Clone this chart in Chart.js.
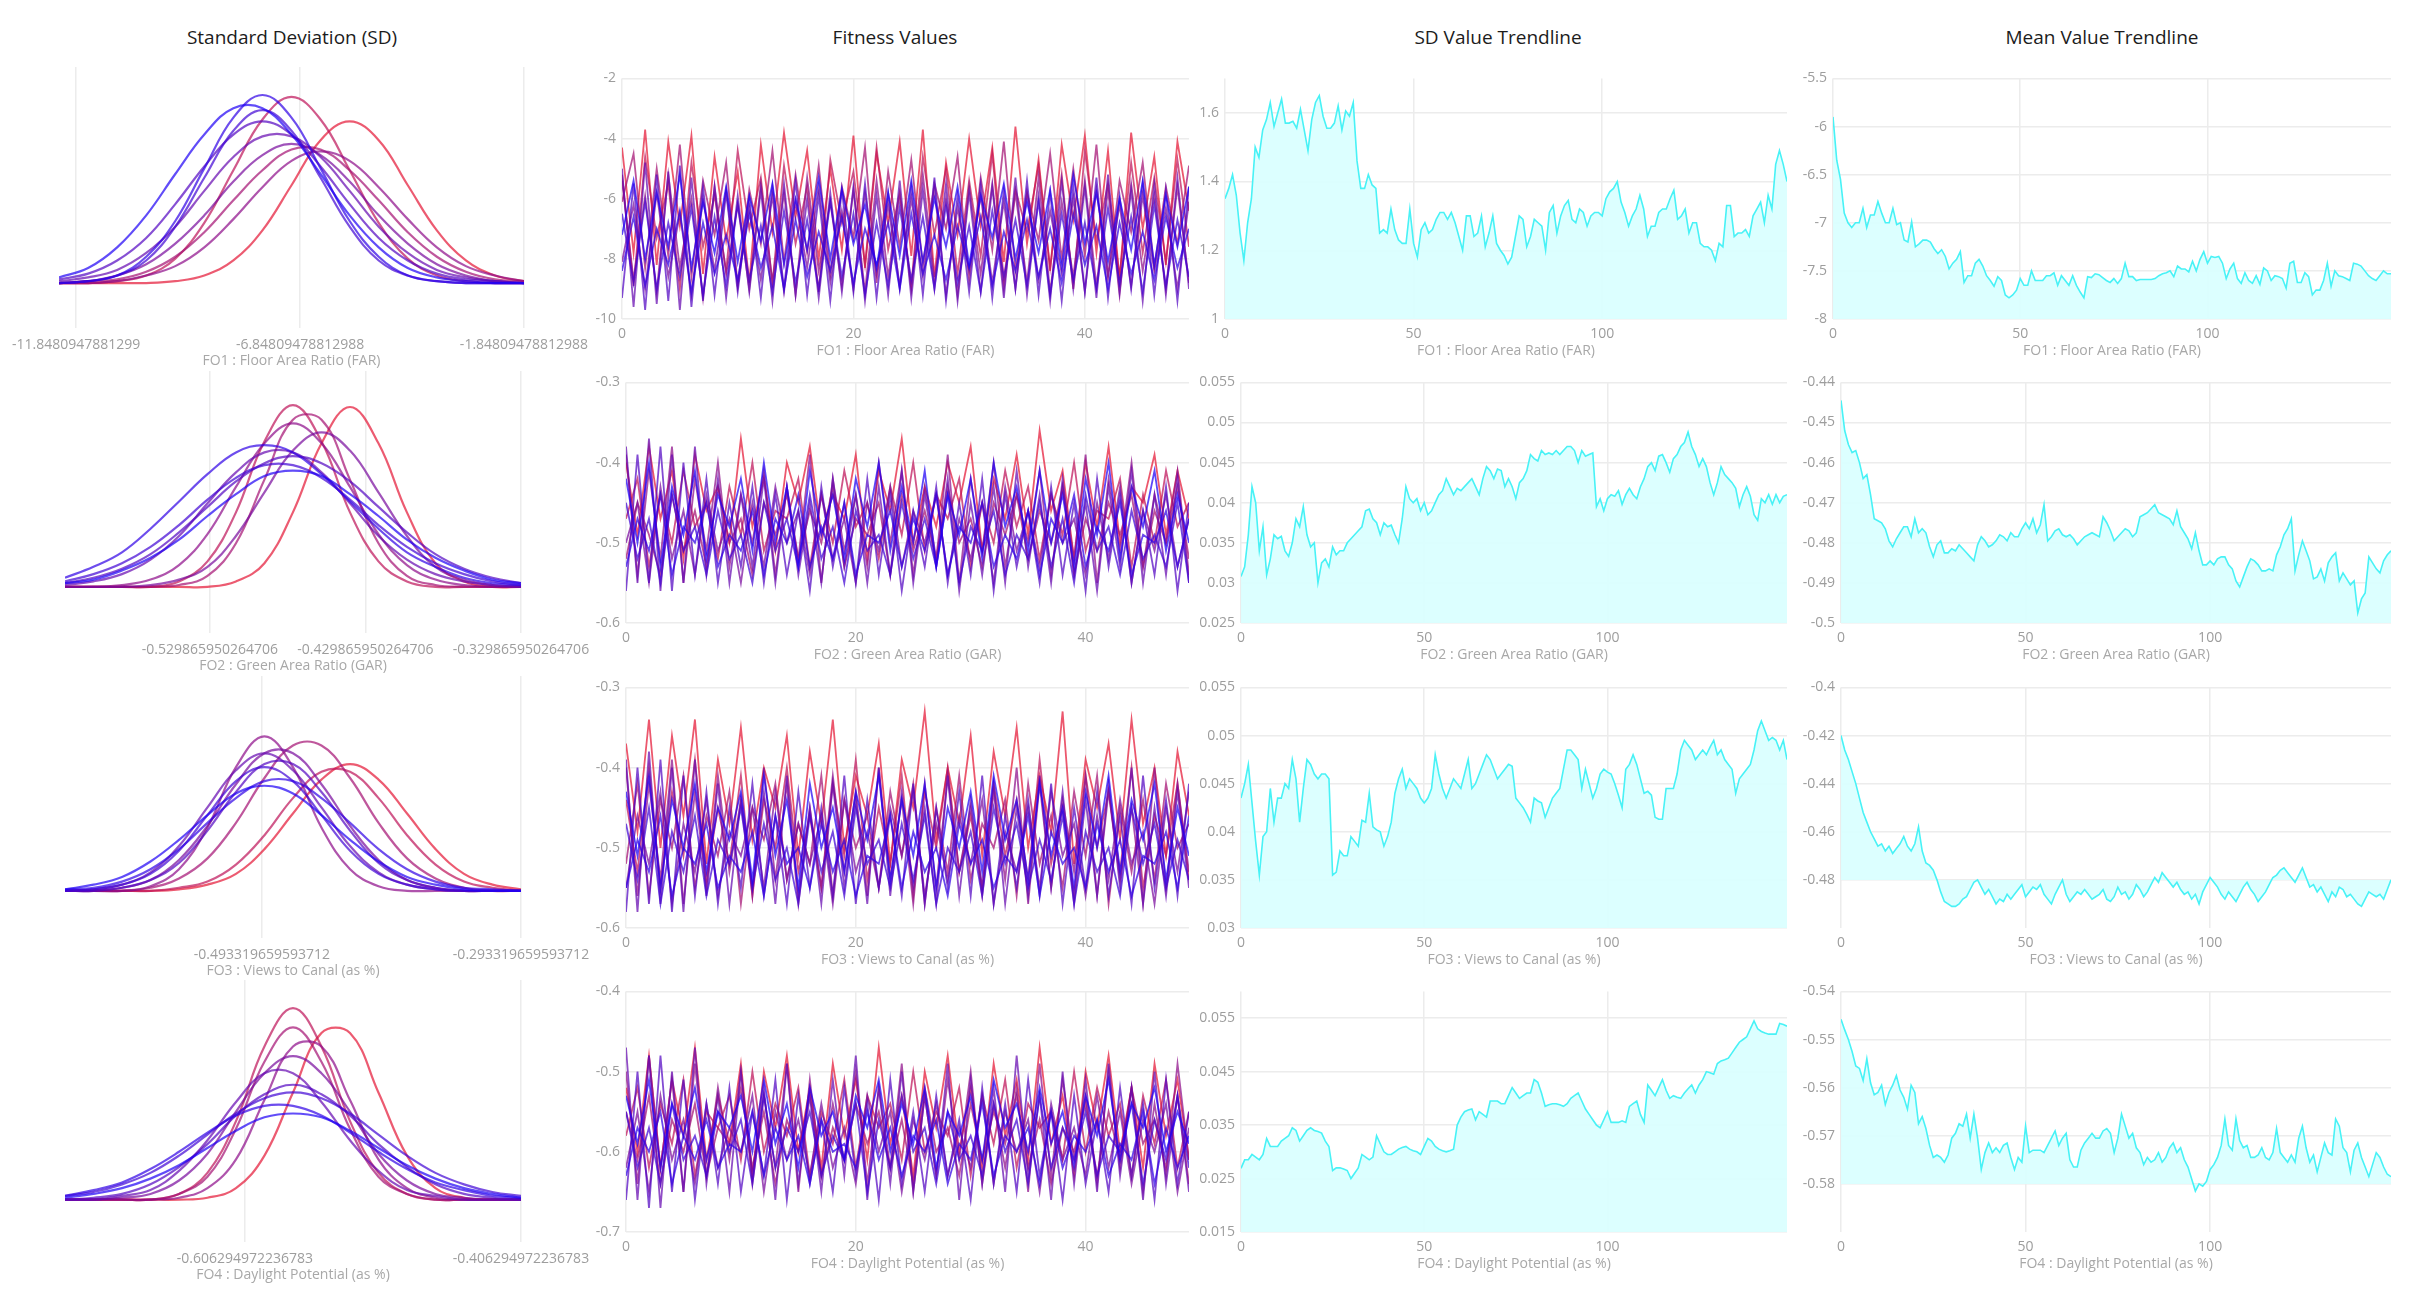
<!DOCTYPE html>
<html>
<head>
<meta charset="utf-8">
<script src="https://cdn.jsdelivr.net/npm/chart.js@4.4.1/dist/chart.umd.min.js"></script>
<style>
body { margin: 0; background: #fff; width: 2419px; height: 1302px; overflow: hidden; position: relative; font-family: "Open Sans", sans-serif; }
.coltitle { position: absolute; top: 27px; line-height: 20px; font-size: 19px; color: #1c1c1c; transform: translateX(-50%); white-space: nowrap; }
canvas { position: absolute; }
</style>
</head>
<body>
<div class="coltitle" style="left:292px">Standard Deviation (SD)</div>
<div class="coltitle" style="left:895px">Fitness Values</div>
<div class="coltitle" style="left:1498px">SD Value Trendline</div>
<div class="coltitle" style="left:2102px">Mean Value Trendline</div>
<script>
// objectives (x axis titles of every row)
const objectives = ["FO1 : Floor Area Ratio (FAR)", "FO2 : Green Area Ratio (GAR)", "FO3 : Views to Canal (as %)", "FO4 : Daylight Potential (as %)"]

// ---------- Standard Deviation column: curves sampled on a shared x grid (oldest generation first) ----------
const sdGridFO1 = [-12.23,-11.581,-10.932,-10.283,-9.634,-8.986,-8.337,-7.688,-7.039,-6.39,-5.741,-5.092,-4.443,-3.794,-3.146,-2.497,-1.8481]
const sdTicksFO1 = [-11.8480947881299, -6.84809478812988, -1.84809478812988]
const sdCurvesFO1 = [
  [0,0,0,0,.01,.04,.12,.28,.52,.76,.86,.76,.52,.28,.12,.04,.01],
  [0,0,.01,.04,.13,.32,.6,.87,.99,.87,.6,.32,.13,.04,.01,0,0],
  [0,.01,.02,.06,.14,.27,.44,.6,.71,.71,.6,.44,.27,.14,.06,.02,.01],
  [0,0,.01,.04,.09,.19,.34,.51,.65,.7,.65,.51,.34,.19,.09,.04,.01],
  [0,.01,.04,.1,.21,.36,.54,.68,.74,.68,.54,.36,.21,.1,.04,.01,0],
  [.01,.03,.07,.16,.3,.49,.67,.78,.78,.67,.49,.3,.16,.07,.03,.01,0],
  [.02,.05,.12,.24,.42,.62,.79,.86,.79,.62,.42,.24,.12,.05,.02,.01,0],
  [0,.01,.04,.12,.3,.56,.81,.92,.81,.56,.3,.12,.04,.01,0,0,0],
  [0,.01,.04,.14,.33,.61,.88,1,.88,.61,.33,.14,.04,.01,0,0,0],
  [.03,.08,.19,.36,.58,.79,.93,.93,.79,.58,.36,.19,.08,.03,.01,0,0]
]
const sdGridFO2 = [-0.623,-0.6047,-0.5864,-0.568,-0.5497,-0.5314,-0.5131,-0.4948,-0.4765,-0.4581,-0.4398,-0.4215,-0.4032,-0.3849,-0.3665,-0.3482,-0.3299]
const sdTicksFO2 = [-0.529865950264706, -0.429865950264706, -0.329865950264706]
const sdCurvesFO2 = [
  [0,0,0,0,0,0,.03,.13,.41,.79,.99,.79,.41,.13,.03,0,0],
  [0,0,0,0,.03,.14,.41,.8,1,.8,.41,.14,.03,0,0,0,0],
  [0,0,0,0,.01,.06,.24,.59,.92,.92,.59,.24,.06,.01,0,0,0],
  [0,0,.01,.04,.12,.29,.55,.79,.9,.79,.55,.29,.12,.04,.01,0,0],
  [0,0,0,.01,.04,.11,.28,.52,.75,.85,.75,.52,.28,.11,.04,.01,0],
  [.01,.03,.07,.15,.28,.46,.63,.74,.74,.63,.46,.28,.15,.07,.03,.01,0],
  [.02,.05,.1,.18,.3,.44,.58,.68,.72,.68,.58,.44,.3,.18,.1,.05,.02],
  [.03,.07,.13,.22,.34,.48,.6,.67,.67,.6,.48,.34,.22,.13,.07,.03,.01],
  [.05,.11,.19,.32,.47,.62,.74,.78,.74,.62,.47,.32,.19,.11,.05,.02,.01],
  [.02,.04,.09,.16,.26,.39,.51,.61,.64,.61,.51,.39,.26,.16,.09,.04,.02]
]
const sdGridFO3 = [-0.6454,-0.6234,-0.6014,-0.5794,-0.5574,-0.5354,-0.5134,-0.4914,-0.4694,-0.4474,-0.4253,-0.4033,-0.3813,-0.3593,-0.3373,-0.3153,-0.2933]
const sdTicksFO3 = [-0.493319659593712, -0.293319659593712]
const sdCurvesFO3 = [
  [0,0,0,0,.01,.04,.11,.27,.5,.72,.82,.72,.5,.27,.11,.04,.01],
  [0,0,0,0,.02,.06,.17,.36,.6,.77,.77,.6,.36,.17,.06,.02,0],
  [0,0,0,.02,.08,.21,.44,.73,.94,.94,.73,.44,.21,.08,.02,0,0],
  [0,0,0,.03,.14,.41,.8,1,.8,.41,.14,.03,0,0,0,0,0],
  [0,0,.02,.07,.2,.42,.69,.89,.89,.69,.42,.2,.07,.02,0,0,0],
  [0,.01,.04,.12,.29,.54,.78,.89,.78,.54,.29,.12,.04,.01,0,0,0],
  [0,0,.02,.07,.18,.39,.64,.82,.82,.64,.39,.18,.07,.02,0,0,0],
  [0,.01,.04,.11,.26,.49,.71,.8,.71,.49,.26,.11,.04,.01,0,0,0],
  [.01,.02,.06,.14,.27,.44,.6,.71,.71,.6,.44,.27,.14,.06,.02,.01,0],
  [.01,.04,.09,.19,.33,.49,.63,.68,.63,.49,.33,.19,.09,.04,.01,0,0]
]
const sdGridFO4 = [-0.7367,-0.7161,-0.6954,-0.6748,-0.6541,-0.6335,-0.6128,-0.5922,-0.5715,-0.5509,-0.5302,-0.5096,-0.4889,-0.4683,-0.4476,-0.427,-0.4063]
const sdTicksFO4 = [-0.606294972236783, -0.406294972236783]
const sdCurvesFO4 = [
  [0,0,0,0,0,.01,.06,.23,.56,.87,.87,.56,.23,.06,.01,0,0],
  [0,0,0,0,.03,.14,.41,.8,1,.8,.41,.14,.03,0,0,0,0],
  [0,0,0,0,.03,.12,.37,.72,.9,.72,.37,.12,.03,0,0,0,0],
  [0,0,0,0,.01,.06,.21,.52,.8,.8,.52,.21,.06,.01,0,0,0],
  [0,0,.01,.03,.1,.24,.46,.66,.75,.66,.46,.24,.1,.03,.01,0,0],
  [0,0,.02,.05,.15,.31,.51,.66,.66,.51,.31,.15,.05,.02,0,0,0],
  [0,.01,.03,.08,.17,.29,.44,.55,.6,.55,.44,.29,.17,.08,.03,.01,0],
  [.02,.04,.08,.14,.23,.34,.45,.53,.56,.53,.45,.34,.23,.14,.08,.04,.02],
  [.02,.05,.09,.16,.25,.35,.44,.49,.49,.44,.35,.25,.16,.09,.05,.02,.01],
  [.01,.03,.06,.11,.18,.27,.36,.43,.45,.43,.36,.27,.18,.11,.06,.03,.01]
]

// ---------- Fitness values: one line per generation over the 50 individuals ----------
const fitnessTicksX = [0, 20, 40]
const fitnessTicksFO1 = [-10, -8, -6, -4, -2]
const fitnessFO1 = [
  [-4.3,-7.8,-3.7,-8.2,-4.1,-6.9,-3.9,-8.5,-4.6,-7.4,-5.1,-8.8,-4.2,-7.1,-3.8,-6.6,-4.4,-8.0,-5.0,-7.7,-3.9,-8.3,-4.5,-6.8,-4.1,-7.9,-3.7,-8.6,-4.8,-7.2,-4.0,-6.9,-4.3,-8.1,-3.6,-7.5,-4.7,-8.4,-4.2,-6.7,-3.9,-7.8,-4.4,-8.7,-3.8,-7.0,-4.6,-8.2,-4.1,-6.4],
  [-5.2,-8.9,-4.6,-7.3,-5.5,-9.0,-4.8,-7.6,-5.9,-8.4,-4.4,-7.0,-5.3,-8.8,-4.9,-7.5,-5.6,-9.1,-4.7,-6.8,-5.1,-8.2,-4.3,-7.7,-5.8,-8.9,-4.6,-7.2,-5.0,-8.5,-5.4,-7.9,-4.5,-8.7,-5.7,-7.1,-4.9,-8.3,-5.2,-9.0,-4.4,-7.4,-5.5,-8.6,-4.8,-7.8,-5.3,-8.1,-4.7,-7.6],
  [-6.1,-4.5,-8.3,-5.0,-7.9,-4.2,-8.6,-5.4,-7.2,-4.8,-8.9,-5.7,-7.5,-4.4,-8.1,-5.2,-7.8,-4.9,-8.5,-5.6,-7.3,-4.3,-8.8,-5.1,-7.6,-4.7,-8.2,-5.5,-7.0,-4.6,-8.7,-5.3,-7.7,-4.1,-8.4,-5.8,-7.4,-4.5,-8.0,-5.0,-7.9,-4.2,-8.6,-5.4,-7.1,-4.8,-8.3,-5.6,-7.5,-4.9],
  [-5.4,-8.7,-5.9,-9.1,-5.2,-8.3,-6.0,-9.3,-5.6,-8.5,-6.2,-9.0,-5.5,-8.8,-5.8,-9.2,-5.3,-8.4,-6.1,-8.9,-5.7,-9.1,-5.4,-8.6,-5.9,-9.0,-5.2,-8.7,-6.0,-9.2,-5.6,-8.5,-5.5,-9.0,-5.8,-8.8,-5.3,-9.1,-6.1,-8.6,-5.4,-8.9,-5.7,-9.2,-5.5,-8.4,-5.9,-9.0,-5.6,-8.8],
  [-8.1,-6.2,-9.0,-5.8,-8.6,-6.5,-9.2,-6.0,-8.4,-5.7,-8.9,-6.3,-8.7,-5.9,-9.1,-6.1,-8.3,-5.6,-8.8,-6.4,-9.0,-5.8,-8.5,-6.2,-8.9,-6.0,-8.6,-5.7,-9.2,-6.3,-8.4,-5.9,-8.8,-6.1,-9.0,-5.8,-8.7,-6.4,-8.5,-6.0,-9.1,-5.7,-8.6,-6.2,-8.9,-5.9,-8.4,-6.3,-9.0,-6.1],
  [-5.0,-9.6,-4.8,-9.5,-5.1,-9.7,-5.3,-9.4,-5.6,-9.3,-5.9,-9.1,-5.7,-9.4,-5.5,-9.2,-6.0,-9.3,-5.8,-9.1,-5.6,-9.4,-5.9,-9.2,-5.4,-9.3,-5.7,-9.0,-5.5,-9.4,-5.8,-9.1,-5.6,-9.3,-5.3,-9.2,-5.9,-9.4,-5.4,-9.0,-5.6,-9.3,-5.2,-9.1,-5.7,-9.4,-5.5,-9.2,-5.3,-9.0],
  [-9.3,-5.5,-9.7,-5.2,-9.4,-4.9,-9.6,-5.6,-9.2,-5.8,-9.1,-6.0,-9.3,-5.6,-9.0,-5.4,-9.2,-5.9,-9.4,-5.7,-9.1,-5.5,-9.3,-5.8,-9.0,-5.6,-9.2,-5.3,-9.4,-5.9,-9.1,-5.5,-9.3,-5.7,-9.0,-5.4,-9.2,-5.8,-9.4,-5.6,-9.1,-5.3,-9.3,-5.9,-9.0,-5.5,-9.2,-5.7,-9.4,-5.6],
  [-6.5,-8.8,-6.1,-9.0,-6.8,-8.6,-6.3,-9.2,-6.6,-8.9,-6.2,-8.7,-6.9,-9.1,-6.4,-8.8,-6.7,-9.0,-6.1,-8.6,-6.5,-9.2,-6.8,-8.9,-6.3,-8.7,-6.6,-9.0,-6.2,-8.8,-6.9,-9.1,-6.4,-8.6,-6.7,-8.9,-6.1,-9.2,-6.5,-8.7,-6.8,-9.0,-6.3,-8.8,-6.6,-9.1,-6.2,-8.9,-6.7,-8.6],
  [-8.4,-6.6,-8.9,-7.0,-8.2,-6.4,-9.1,-6.8,-8.5,-7.2,-8.7,-6.5,-8.3,-6.9,-9.0,-6.7,-8.6,-7.1,-8.4,-6.6,-8.8,-7.0,-8.2,-6.8,-9.0,-6.5,-8.5,-7.2,-8.7,-6.9,-8.3,-6.6,-8.9,-7.1,-8.4,-6.7,-8.6,-7.0,-8.8,-6.5,-8.2,-6.9,-9.0,-6.8,-8.5,-7.1,-8.7,-6.6,-8.3,-7.0],
  [-7.2,-5.4,-8.0,-5.8,-7.6,-5.2,-8.3,-6.1,-7.8,-5.6,-8.1,-5.9,-7.4,-5.5,-8.2,-6.0,-7.7,-5.3,-8.0,-5.7,-7.5,-6.2,-8.3,-5.8,-7.9,-5.4,-8.1,-6.0,-7.6,-5.6,-8.2,-5.9,-7.3,-5.5,-8.0,-6.1,-7.8,-5.7,-8.3,-5.2,-7.5,-5.8,-8.1,-6.0,-7.7,-5.4,-8.2,-5.9,-7.6,-5.6]
]
const fitnessTicksFO2 = [-0.6, -0.5, -0.4, -0.3]
const fitnessFO2 = [
  [-.40,-.49,-.38,-.47,-.41,-.52,-.39,-.46,-.43,-.50,-.37,-.48,-.42,-.51,-.40,-.45,-.38,-.49,-.44,-.47,-.39,-.52,-.41,-.46,-.37,-.50,-.43,-.48,-.40,-.45,-.38,-.51,-.42,-.47,-.39,-.49,-.36,-.46,-.41,-.52,-.40,-.48,-.38,-.50,-.43,-.45,-.39,-.49,-.41,-.47],
  [-.47,-.42,-.53,-.44,-.50,-.41,-.48,-.45,-.52,-.43,-.49,-.40,-.51,-.46,-.47,-.42,-.53,-.44,-.50,-.41,-.48,-.45,-.52,-.43,-.49,-.40,-.51,-.44,-.47,-.42,-.53,-.45,-.50,-.41,-.48,-.43,-.52,-.44,-.49,-.40,-.51,-.46,-.47,-.42,-.53,-.44,-.50,-.41,-.48,-.45],
  [-.52,-.45,-.49,-.54,-.44,-.51,-.46,-.53,-.43,-.50,-.47,-.54,-.45,-.49,-.44,-.52,-.46,-.50,-.43,-.53,-.47,-.49,-.45,-.54,-.44,-.51,-.46,-.52,-.43,-.50,-.47,-.53,-.45,-.49,-.44,-.52,-.46,-.50,-.43,-.54,-.47,-.51,-.45,-.49,-.44,-.53,-.46,-.50,-.43,-.52],
  [-.39,-.54,-.41,-.52,-.38,-.55,-.42,-.51,-.40,-.53,-.44,-.50,-.41,-.54,-.43,-.52,-.39,-.55,-.42,-.51,-.44,-.53,-.40,-.50,-.41,-.54,-.43,-.52,-.39,-.55,-.42,-.51,-.40,-.53,-.44,-.50,-.41,-.54,-.43,-.52,-.39,-.55,-.42,-.51,-.40,-.53,-.44,-.50,-.41,-.54],
  [-.50,-.45,-.55,-.43,-.52,-.46,-.54,-.44,-.51,-.47,-.55,-.45,-.53,-.43,-.50,-.46,-.54,-.44,-.52,-.47,-.55,-.45,-.51,-.43,-.53,-.46,-.50,-.44,-.54,-.47,-.52,-.45,-.55,-.43,-.51,-.46,-.53,-.44,-.50,-.47,-.54,-.45,-.52,-.43,-.55,-.46,-.51,-.44,-.53,-.47],
  [-.38,-.55,-.37,-.56,-.39,-.55,-.38,-.54,-.42,-.55,-.44,-.53,-.42,-.55,-.43,-.54,-.45,-.55,-.42,-.53,-.44,-.55,-.43,-.54,-.41,-.55,-.44,-.53,-.42,-.56,-.45,-.54,-.43,-.55,-.41,-.53,-.44,-.55,-.42,-.54,-.45,-.56,-.43,-.53,-.41,-.55,-.44,-.54,-.42,-.55],
  [-.56,-.39,-.55,-.38,-.56,-.40,-.54,-.42,-.55,-.45,-.53,-.43,-.55,-.44,-.54,-.46,-.56,-.43,-.53,-.45,-.55,-.42,-.54,-.44,-.56,-.46,-.53,-.43,-.55,-.45,-.54,-.42,-.56,-.44,-.53,-.46,-.55,-.43,-.54,-.45,-.56,-.42,-.53,-.44,-.55,-.46,-.54,-.43,-.56,-.45],
  [-.45,-.52,-.47,-.55,-.44,-.51,-.48,-.54,-.46,-.52,-.49,-.55,-.45,-.51,-.47,-.53,-.44,-.52,-.48,-.55,-.46,-.51,-.49,-.54,-.45,-.52,-.47,-.53,-.44,-.55,-.48,-.51,-.46,-.54,-.49,-.52,-.45,-.53,-.47,-.55,-.44,-.51,-.48,-.54,-.46,-.52,-.49,-.53,-.45,-.55],
  [-.53,-.47,-.51,-.44,-.54,-.48,-.50,-.45,-.53,-.49,-.51,-.46,-.54,-.47,-.50,-.44,-.53,-.48,-.52,-.45,-.54,-.49,-.50,-.46,-.53,-.47,-.51,-.44,-.54,-.48,-.50,-.45,-.53,-.49,-.52,-.46,-.54,-.47,-.50,-.44,-.53,-.48,-.51,-.45,-.54,-.49,-.50,-.46,-.53,-.47],
  [-.42,-.50,-.40,-.53,-.43,-.49,-.41,-.52,-.44,-.48,-.42,-.51,-.40,-.50,-.43,-.53,-.41,-.49,-.44,-.52,-.42,-.48,-.40,-.51,-.43,-.50,-.41,-.53,-.44,-.49,-.42,-.52,-.40,-.48,-.43,-.51,-.41,-.50,-.44,-.53,-.42,-.49,-.40,-.52,-.43,-.48,-.41,-.51,-.44,-.50]
]
const fitnessTicksFO3 = [-0.6, -0.5, -0.4, -0.3]
const fitnessFO3 = [
  [-.37,-.48,-.34,-.50,-.36,-.46,-.34,-.52,-.39,-.47,-.35,-.49,-.40,-.45,-.36,-.51,-.38,-.47,-.34,-.50,-.41,-.46,-.37,-.52,-.39,-.45,-.33,-.49,-.40,-.47,-.36,-.51,-.38,-.46,-.35,-.50,-.41,-.48,-.33,-.52,-.39,-.45,-.37,-.49,-.34,-.47,-.40,-.51,-.38,-.46],
  [-.44,-.53,-.40,-.55,-.43,-.51,-.39,-.54,-.45,-.52,-.41,-.56,-.44,-.50,-.40,-.53,-.46,-.55,-.42,-.51,-.39,-.54,-.45,-.52,-.41,-.56,-.43,-.50,-.40,-.53,-.46,-.55,-.42,-.51,-.44,-.54,-.39,-.52,-.45,-.56,-.41,-.50,-.43,-.53,-.40,-.55,-.46,-.51,-.42,-.54],
  [-.52,-.42,-.56,-.44,-.50,-.41,-.55,-.46,-.51,-.43,-.57,-.45,-.49,-.42,-.54,-.47,-.52,-.41,-.56,-.44,-.50,-.46,-.55,-.43,-.51,-.42,-.57,-.45,-.53,-.41,-.54,-.47,-.50,-.44,-.56,-.42,-.52,-.46,-.55,-.43,-.51,-.41,-.57,-.45,-.53,-.44,-.54,-.42,-.50,-.47],
  [-.40,-.56,-.42,-.54,-.39,-.57,-.43,-.55,-.41,-.53,-.44,-.56,-.40,-.54,-.42,-.57,-.45,-.55,-.41,-.53,-.43,-.56,-.40,-.54,-.44,-.57,-.42,-.55,-.41,-.53,-.45,-.56,-.43,-.54,-.40,-.57,-.42,-.55,-.44,-.53,-.41,-.56,-.43,-.54,-.45,-.57,-.40,-.55,-.42,-.53],
  [-.55,-.46,-.52,-.43,-.57,-.47,-.53,-.44,-.56,-.48,-.51,-.45,-.55,-.43,-.54,-.47,-.52,-.46,-.57,-.44,-.53,-.48,-.55,-.45,-.51,-.43,-.56,-.47,-.54,-.46,-.52,-.44,-.57,-.48,-.53,-.45,-.55,-.43,-.51,-.47,-.56,-.46,-.54,-.44,-.52,-.48,-.57,-.45,-.53,-.43],
  [-.39,-.58,-.38,-.57,-.40,-.58,-.39,-.56,-.42,-.57,-.44,-.55,-.43,-.57,-.41,-.56,-.45,-.57,-.42,-.55,-.44,-.57,-.40,-.56,-.43,-.55,-.45,-.57,-.41,-.56,-.44,-.55,-.42,-.57,-.45,-.56,-.41,-.55,-.43,-.57,-.44,-.56,-.42,-.55,-.40,-.57,-.45,-.56,-.43,-.55],
  [-.58,-.40,-.57,-.39,-.58,-.41,-.56,-.43,-.57,-.45,-.55,-.42,-.56,-.46,-.57,-.43,-.55,-.45,-.56,-.41,-.57,-.44,-.55,-.46,-.56,-.42,-.57,-.45,-.55,-.43,-.56,-.41,-.57,-.46,-.55,-.44,-.56,-.42,-.57,-.45,-.55,-.43,-.56,-.46,-.57,-.41,-.55,-.44,-.56,-.42],
  [-.47,-.54,-.45,-.57,-.48,-.53,-.46,-.56,-.49,-.52,-.45,-.55,-.47,-.54,-.50,-.57,-.46,-.53,-.48,-.56,-.45,-.52,-.49,-.55,-.47,-.54,-.46,-.57,-.50,-.53,-.48,-.56,-.45,-.52,-.47,-.55,-.49,-.54,-.46,-.57,-.48,-.53,-.50,-.56,-.45,-.52,-.47,-.55,-.49,-.54],
  [-.55,-.49,-.53,-.46,-.56,-.50,-.52,-.47,-.55,-.51,-.53,-.48,-.56,-.46,-.52,-.50,-.55,-.47,-.53,-.49,-.56,-.51,-.52,-.46,-.55,-.48,-.53,-.50,-.56,-.47,-.52,-.49,-.55,-.51,-.53,-.46,-.56,-.48,-.52,-.50,-.55,-.47,-.53,-.49,-.56,-.51,-.52,-.48,-.55,-.46],
  [-.43,-.51,-.41,-.55,-.44,-.50,-.42,-.53,-.45,-.49,-.43,-.54,-.41,-.51,-.44,-.55,-.42,-.50,-.45,-.53,-.43,-.49,-.41,-.54,-.44,-.51,-.42,-.55,-.45,-.50,-.43,-.53,-.41,-.49,-.44,-.54,-.42,-.51,-.45,-.55,-.43,-.50,-.41,-.53,-.44,-.49,-.42,-.54,-.45,-.51]
]
const fitnessTicksFO4 = [-0.7, -0.6, -0.5, -0.4]
const fitnessFO4 = [
  [-.52,-.60,-.48,-.62,-.51,-.58,-.47,-.61,-.53,-.59,-.49,-.63,-.50,-.57,-.48,-.60,-.52,-.62,-.49,-.58,-.51,-.61,-.47,-.59,-.53,-.63,-.50,-.57,-.48,-.60,-.52,-.62,-.49,-.58,-.51,-.61,-.47,-.59,-.53,-.63,-.50,-.57,-.48,-.60,-.52,-.62,-.49,-.58,-.51,-.61],
  [-.58,-.52,-.62,-.54,-.59,-.51,-.63,-.55,-.57,-.53,-.61,-.50,-.60,-.54,-.58,-.52,-.63,-.55,-.59,-.51,-.62,-.53,-.57,-.54,-.61,-.50,-.60,-.55,-.58,-.52,-.63,-.53,-.59,-.51,-.62,-.54,-.57,-.55,-.61,-.50,-.60,-.52,-.58,-.54,-.63,-.53,-.59,-.51,-.62,-.55],
  [-.55,-.61,-.53,-.64,-.56,-.60,-.54,-.63,-.57,-.59,-.52,-.62,-.55,-.64,-.56,-.60,-.53,-.63,-.57,-.61,-.54,-.59,-.55,-.62,-.56,-.64,-.52,-.60,-.57,-.63,-.54,-.61,-.55,-.59,-.53,-.62,-.56,-.64,-.57,-.60,-.54,-.63,-.55,-.61,-.52,-.59,-.56,-.62,-.53,-.64],
  [-.50,-.64,-.48,-.62,-.51,-.65,-.49,-.63,-.52,-.61,-.50,-.64,-.53,-.62,-.49,-.65,-.51,-.63,-.54,-.61,-.50,-.64,-.52,-.62,-.49,-.65,-.53,-.63,-.51,-.61,-.50,-.64,-.54,-.62,-.52,-.65,-.49,-.63,-.51,-.61,-.53,-.64,-.50,-.62,-.52,-.65,-.54,-.63,-.49,-.61],
  [-.62,-.55,-.65,-.53,-.61,-.56,-.64,-.54,-.62,-.57,-.60,-.53,-.65,-.55,-.61,-.56,-.63,-.54,-.62,-.57,-.64,-.53,-.60,-.55,-.65,-.56,-.61,-.54,-.63,-.57,-.62,-.53,-.64,-.55,-.60,-.56,-.65,-.54,-.61,-.57,-.63,-.53,-.62,-.55,-.64,-.56,-.60,-.54,-.65,-.57],
  [-.47,-.66,-.48,-.67,-.50,-.65,-.47,-.64,-.53,-.65,-.50,-.63,-.52,-.66,-.49,-.64,-.53,-.65,-.51,-.63,-.48,-.66,-.52,-.64,-.50,-.65,-.53,-.63,-.49,-.66,-.51,-.64,-.52,-.65,-.48,-.63,-.53,-.66,-.50,-.64,-.51,-.65,-.49,-.63,-.52,-.66,-.50,-.64,-.53,-.65],
  [-.66,-.50,-.67,-.48,-.65,-.51,-.66,-.54,-.64,-.52,-.65,-.55,-.63,-.51,-.66,-.53,-.64,-.56,-.65,-.52,-.63,-.54,-.66,-.51,-.64,-.55,-.65,-.53,-.63,-.56,-.66,-.52,-.64,-.54,-.65,-.51,-.63,-.55,-.66,-.53,-.64,-.56,-.65,-.52,-.63,-.54,-.66,-.51,-.64,-.55],
  [-.55,-.62,-.57,-.64,-.54,-.61,-.58,-.63,-.55,-.60,-.56,-.64,-.53,-.62,-.57,-.60,-.55,-.63,-.58,-.61,-.54,-.65,-.56,-.62,-.53,-.60,-.57,-.64,-.55,-.61,-.58,-.63,-.54,-.60,-.56,-.64,-.53,-.62,-.57,-.61,-.55,-.63,-.58,-.60,-.54,-.64,-.56,-.61,-.53,-.62],
  [-.63,-.57,-.60,-.55,-.64,-.58,-.61,-.56,-.62,-.59,-.60,-.55,-.63,-.57,-.61,-.58,-.64,-.56,-.60,-.59,-.62,-.55,-.61,-.57,-.63,-.58,-.60,-.56,-.64,-.59,-.61,-.54,-.63,-.58,-.60,-.57,-.64,-.55,-.62,-.58,-.60,-.56,-.63,-.59,-.61,-.55,-.64,-.57,-.62,-.58],
  [-.53,-.59,-.51,-.62,-.54,-.58,-.52,-.61,-.55,-.57,-.53,-.60,-.51,-.59,-.54,-.62,-.52,-.58,-.55,-.61,-.53,-.57,-.51,-.60,-.54,-.59,-.52,-.62,-.55,-.58,-.53,-.61,-.51,-.57,-.54,-.60,-.52,-.59,-.55,-.62,-.53,-.58,-.51,-.61,-.54,-.57,-.52,-.60,-.55,-.59]
]

// ---------- Trendlines: one value per generation (0..149) ----------
const trendTicksX = [0, 50, 100]
const sdTrendTicksFO1 = [1, 1.2, 1.4, 1.6]
const sdTrendFO1 = [
  1.35,1.38,1.42,1.36,1.25,1.17,1.28,1.35,1.5,1.47,
  1.55,1.58,1.63,1.56,1.6,1.64,1.57,1.57,1.575,1.555,
  1.61,1.55,1.49,1.58,1.63,1.65,1.59,1.555,1.555,1.57,
  1.62,1.55,1.605,1.59,1.63,1.46,1.38,1.38,1.42,1.39,
  1.38,1.25,1.26,1.25,1.32,1.26,1.23,1.22,1.22,1.32,
  1.22,1.18,1.26,1.28,1.25,1.26,1.29,1.31,1.31,1.29,
  1.31,1.28,1.24,1.2,1.3,1.3,1.24,1.25,1.3,1.21,
  1.25,1.3,1.22,1.2,1.185,1.16,1.18,1.24,1.3,1.29,
  1.21,1.24,1.29,1.28,1.27,1.2,1.31,1.33,1.25,1.3,
  1.33,1.345,1.29,1.28,1.32,1.31,1.27,1.3,1.31,1.31,
  1.3,1.35,1.37,1.38,1.4,1.34,1.31,1.27,1.3,1.32,
  1.36,1.32,1.24,1.27,1.27,1.31,1.32,1.32,1.35,1.375,
  1.29,1.3,1.32,1.25,1.28,1.28,1.22,1.21,1.21,1.2,
  1.17,1.22,1.21,1.33,1.33,1.24,1.25,1.25,1.26,1.24,
  1.3,1.32,1.34,1.28,1.36,1.32,1.45,1.49,1.45,1.4
]
const meanTrendTicksFO1 = [-8, -7.5, -7, -6.5, -6, -5.5]
const meanTrendFO1 = [
  -5.9,-6.35,-6.55,-6.9,-7,-7.05,-7,-7,-6.85,-7.05,
  -6.92,-6.92,-6.78,-6.9,-7,-7,-6.85,-7.02,-7,-7.18,
  -7.2,-6.99,-7.25,-7.22,-7.18,-7.18,-7.2,-7.27,-7.32,-7.28,
  -7.35,-7.48,-7.42,-7.38,-7.3,-7.62,-7.55,-7.55,-7.42,-7.38,
  -7.45,-7.55,-7.6,-7.66,-7.56,-7.6,-7.75,-7.78,-7.75,-7.7,
  -7.58,-7.65,-7.65,-7.5,-7.6,-7.6,-7.6,-7.55,-7.55,-7.52,
  -7.65,-7.55,-7.6,-7.65,-7.55,-7.65,-7.72,-7.78,-7.56,-7.57,
  -7.53,-7.54,-7.57,-7.6,-7.62,-7.58,-7.63,-7.58,-7.42,-7.56,
  -7.56,-7.6,-7.59,-7.59,-7.59,-7.59,-7.58,-7.55,-7.53,-7.52,
  -7.5,-7.56,-7.45,-7.48,-7.48,-7.51,-7.4,-7.5,-7.38,-7.3,
  -7.42,-7.35,-7.36,-7.35,-7.42,-7.58,-7.48,-7.42,-7.58,-7.63,
  -7.52,-7.6,-7.63,-7.55,-7.64,-7.47,-7.5,-7.6,-7.55,-7.56,
  -7.58,-7.68,-7.42,-7.4,-7.62,-7.62,-7.52,-7.56,-7.75,-7.7,
  -7.7,-7.6,-7.42,-7.66,-7.5,-7.55,-7.56,-7.58,-7.6,-7.42,
  -7.43,-7.45,-7.5,-7.55,-7.58,-7.6,-7.55,-7.5,-7.53,-7.53
]
const sdTrendTicksFO2 = [0.025, 0.03, 0.035, 0.04, 0.045, 0.05, 0.055]
const sdTrendFO2 = [
  .0308,.032,.036,.042,.04,.034,.037,.031,.033,.036,
  .0355,.0358,.034,.0333,.035,.038,.037,.0395,.036,.0345,
  .035,.03,.0325,.033,.032,.0345,.0335,.034,.034,.035,
  .0355,.036,.0365,.037,.039,.0392,.038,.0375,.036,.0375,
  .037,.0372,.036,.035,.038,.042,.0405,.04,.0405,.039,
  .04,.0385,.039,.04,.041,.0415,.043,.042,.041,.0418,
  .0415,.042,.0425,.043,.042,.041,.043,.0445,.044,.043,
  .0442,.044,.042,.043,.042,.0405,.0425,.043,.044,.046,
  .0455,.0452,.0465,.046,.0462,.046,.0465,.046,.0465,.047,
  .047,.0465,.045,.0465,.0458,.046,.0462,.0395,.0405,.039,
  .0405,.041,.0408,.0415,.0398,.041,.0418,.041,.0405,.042,
  .043,.0445,.045,.044,.0458,.046,.045,.0438,.0455,.046,
  .047,.0475,.0488,.047,.046,.0445,.0455,.0445,.0425,.041,
  .0425,.0445,.0435,.043,.0425,.0418,.0395,.041,.042,.0408,
  .0385,.0378,.0405,.04,.041,.0398,.041,.04,.0408,.041
]
const meanTrendTicksFO2 = [-0.5, -0.49, -0.48, -0.47, -0.46, -0.45, -0.44]
const meanTrendFO2 = [
  -.4445,-.452,-.4555,-.4575,-.457,-.46,-.464,-.463,-.468,-.474,
  -.4745,-.475,-.4765,-.4795,-.481,-.479,-.4775,-.476,-.476,-.4785,
  -.474,-.4775,-.4765,-.4775,-.481,-.4835,-.4805,-.4795,-.4825,-.4825,
  -.4815,-.482,-.4805,-.4815,-.4825,-.4835,-.4845,-.4805,-.4785,-.4795,
  -.481,-.4805,-.4795,-.478,-.4785,-.4795,-.4775,-.4785,-.4785,-.4765,
  -.475,-.4765,-.474,-.4775,-.4755,-.4705,-.4795,-.4785,-.477,-.4765,
  -.478,-.4785,-.478,-.479,-.4805,-.4795,-.4785,-.478,-.4775,-.478,
  -.4785,-.4735,-.475,-.477,-.4795,-.4785,-.4775,-.4765,-.477,-.4785,
  -.4775,-.4735,-.473,-.4725,-.4715,-.4705,-.4725,-.473,-.4735,-.474,
  -.4755,-.472,-.476,-.4775,-.479,-.4815,-.4775,-.482,-.4855,-.4855,
  -.4845,-.4855,-.484,-.4835,-.4835,-.4855,-.4865,-.4895,-.491,-.4885,
  -.486,-.484,-.4845,-.4855,-.487,-.487,-.4865,-.487,-.483,-.481,
  -.478,-.4765,-.474,-.487,-.483,-.4795,-.482,-.4845,-.489,-.4885,
  -.4865,-.4895,-.485,-.4835,-.4825,-.4895,-.4875,-.489,-.4905,-.4895,
  -.4975,-.494,-.4925,-.4835,-.485,-.4865,-.4875,-.4845,-.483,-.482
]
const sdTrendTicksFO3 = [0.03, 0.035, 0.04, 0.045, 0.05, 0.055]
const sdTrendFO3 = [
  .0435,.045,.047,.043,.039,.0355,.0395,.04,.0445,.041,
  .0435,.0435,.045,.0445,.0475,.0455,.041,.0445,.0475,.047,
  .046,.0455,.046,.046,.0455,.0355,.0358,.038,.0375,.0375,
  .0395,.039,.0385,.0412,.041,.044,.0405,.0402,.04,.0385,
  .0395,.041,.044,.0455,.0465,.0445,.0455,.045,.0445,.0435,
  .043,.0435,.0445,.048,.046,.0445,.0435,.0445,.0455,.045,
  .0445,.046,.0475,.0445,.045,.046,.047,.048,.0475,.0465,
  .0455,.046,.0465,.047,.0468,.0435,.043,.0425,.0418,.041,
  .0435,.0432,.043,.0415,.0425,.0435,.044,.0445,.0465,.0485,
  .0485,.048,.0475,.0445,.0465,.045,.0435,.0445,.046,.0465,
  .0462,.046,.045,.0438,.0425,.0465,.047,.048,.047,.0455,
  .044,.0442,.0438,.0415,.0413,.0413,.0445,.0445,.0445,.046,
  .0485,.0495,.049,.0485,.0475,.048,.0485,.048,.0488,.0495,
  .048,.0485,.0475,.047,.0465,.044,.0455,.046,.0465,.047,
  .0485,.0505,.0515,.0505,.0495,.0498,.0495,.0485,.0495,.0475
]
const meanTrendTicksFO3 = [-0.48, -0.46, -0.44, -0.42, -0.4]
const meanTrendFO3 = [
  -.42,-.426,-.43,-.435,-.44,-.446,-.452,-.456,-.46,-.463,
  -.466,-.465,-.468,-.466,-.469,-.467,-.465,-.462,-.466,-.468,
  -.465,-.458,-.468,-.473,-.474,-.476,-.48,-.485,-.489,-.49,
  -.491,-.491,-.49,-.488,-.487,-.484,-.481,-.48,-.483,-.486,
  -.484,-.487,-.49,-.488,-.489,-.486,-.488,-.486,-.484,-.482,
  -.487,-.485,-.483,-.484,-.482,-.486,-.488,-.49,-.486,-.483,
  -.48,-.486,-.489,-.487,-.485,-.486,-.484,-.486,-.488,-.487,
  -.486,-.484,-.488,-.489,-.487,-.483,-.486,-.485,-.488,-.486,
  -.482,-.484,-.487,-.485,-.482,-.479,-.481,-.477,-.479,-.481,
  -.483,-.481,-.484,-.486,-.485,-.488,-.486,-.49,-.485,-.482,
  -.479,-.481,-.483,-.486,-.488,-.485,-.487,-.489,-.486,-.483,
  -.481,-.484,-.486,-.489,-.487,-.485,-.482,-.479,-.478,-.476,
  -.475,-.477,-.479,-.481,-.478,-.475,-.479,-.483,-.482,-.485,
  -.483,-.486,-.489,-.485,-.487,-.483,-.484,-.487,-.486,-.488,
  -.49,-.491,-.488,-.485,-.486,-.487,-.486,-.488,-.484,-.48
]
const sdTrendTicksFO4 = [0.015, 0.025, 0.035, 0.045, 0.055]
const sdTrendFO4 = [
  .0269,.0285,.0285,.0295,.029,.0285,.0295,.0325,.031,.031,
  .031,.032,.0325,.033,.0345,.034,.032,.033,.034,.0345,
  .034,.0338,.0335,.032,.031,.0265,.027,.027,.0268,.0265,
  .025,.026,.027,.0295,.029,.0285,.029,.033,.0315,.03,
  .0295,.0295,.03,.0305,.0308,.031,.0305,.0302,.03,.0295,
  .031,.0325,.032,.031,.0305,.0302,.03,.0302,.0305,.035,
  .0365,.0375,.0378,.038,.036,.0375,.037,.0365,.0395,.0395,
  .0395,.039,.039,.0405,.042,.041,.04,.0405,.041,.041,
  .0435,.043,.041,.0385,.0388,.039,.039,.0388,.0385,.039,
  .04,.0405,.041,.0395,.038,.037,.036,.035,.0345,.036,
  .0375,.0355,.0355,.0355,.0358,.0355,.0385,.039,.0395,.037,
  .0355,.0425,.0415,.0405,.042,.0435,.0415,.04,.0405,.0402,
  .04,.041,.0418,.0425,.041,.0425,.0435,.045,.0448,.0445,
  .0465,.047,.0472,.0475,.0485,.0495,.0505,.051,.0515,.053,
  .0545,.053,.0525,.0522,.052,.052,.052,.054,.0538,.0535
]
const meanTrendTicksFO4 = [-0.58, -0.57, -0.56, -0.55, -0.54]
const meanTrendFO4 = [
  -.5458,-.548,-.55,-.5525,-.5555,-.556,-.5585,-.554,-.559,-.5615,
  -.561,-.5595,-.5635,-.561,-.5595,-.5575,-.5605,-.562,-.5645,-.5595,
  -.561,-.5675,-.566,-.5685,-.572,-.5745,-.574,-.5745,-.5755,-.574,
  -.5705,-.5695,-.5675,-.568,-.5655,-.5705,-.5655,-.5705,-.577,-.5735,
  -.5715,-.5735,-.5725,-.5735,-.572,-.5715,-.5745,-.577,-.5745,-.5755,
  -.568,-.5735,-.573,-.573,-.573,-.5735,-.572,-.5705,-.569,-.572,
  -.5705,-.5695,-.575,-.5765,-.5765,-.573,-.5715,-.5705,-.5695,-.5705,
  -.5705,-.569,-.5685,-.5695,-.5735,-.5705,-.5655,-.568,-.5705,-.5695,
  -.5725,-.5735,-.576,-.5745,-.5755,-.575,-.5735,-.5755,-.5745,-.5725,
  -.5715,-.5735,-.5725,-.575,-.5765,-.579,-.5815,-.58,-.5805,-.5795,
  -.577,-.576,-.5745,-.572,-.5665,-.572,-.573,-.5665,-.571,-.5725,
  -.572,-.5745,-.5745,-.574,-.5725,-.5745,-.575,-.5735,-.5685,-.5735,
  -.5745,-.5755,-.574,-.5755,-.5705,-.568,-.5725,-.5755,-.574,-.5775,
  -.5745,-.5715,-.5735,-.574,-.5665,-.568,-.5725,-.5735,-.5775,-.573,
  -.5715,-.5745,-.5765,-.5785,-.576,-.5735,-.5745,-.5765,-.578,-.5785
]

// ---------- drawing ----------
const tickFont = { family: "Open Sans", size: 14 }
const tickGrey = "#9d9d9d"
const titleGrey = "#a8a8a8"
const gridGrey = "#ececec"
const AXIS_W = 60, X_H = 46, PAD_T = 12

function addCanvas(left, top, width, height) {
  let c = document.createElement("canvas")
  c.style.left = left + "px"
  c.style.top = top + "px"
  c.width = width
  c.height = height
  document.body.appendChild(c)
  return c
}

function generationColor(i, n, alpha) {
  // early generations crimson, late ones blue; the later part of the run dominates
  let t = n > 1 ? Math.pow(i / (n - 1), 0.75) : 0
  let r = Math.round(228 + (30 - 228) * t)
  let g = Math.round(22 + (0 - 22) * t)
  let b = Math.round(52 + (245 - 52) * t)
  return "rgba(" + r + "," + g + "," + b + "," + alpha + ")"
}

function points(xs, ys) {
  return ys.map(function(y, i) { return { x: xs[i], y: y } })
}

function xAxis(min, max, ticks, title, labelPad, titlePad) {
  return {
    type: "linear", min: min, max: max,
    afterBuildTicks: function(s) { s.ticks = ticks.map(function(v) { return { value: v } }) },
    afterFit: function(s) { s.height = X_H },
    grid: { color: gridGrey, lineWidth: 1.5, drawTicks: false },
    border: { display: false },
    ticks: { color: tickGrey, font: tickFont, padding: labelPad, maxRotation: 0, autoSkip: false, callback: function(v) { return String(v) } },
    title: { display: true, text: title, color: titleGrey, font: tickFont, padding: { top: 0, bottom: titlePad } }
  }
}

function yAxis(min, max, ticks) {
  return {
    type: "linear", min: min, max: max,
    afterBuildTicks: function(s) { s.ticks = ticks.map(function(v) { return { value: v } }) },
    afterFit: function(s) { s.width = AXIS_W },
    grid: { color: gridGrey, lineWidth: 1.5, drawTicks: false },
    border: { display: false },
    ticks: { color: tickGrey, font: tickFont, padding: 6, autoSkip: false, callback: function(v) { return String(v) } }
  }
}

function panel(p) {
  let yOn = p.y.display !== false
  let left = yOn ? p.L - AXIS_W : 0
  let padL = yOn ? 0 : p.L
  let padR = p.padR || 12
  let c = addCanvas(left, p.T - PAD_T, p.R - left + padR, p.B - p.T + PAD_T + X_H)
  return new Chart(c, {
    type: "line",
    data: { datasets: p.datasets },
    options: {
      responsive: false, animation: false, events: [],
      layout: { padding: { left: padL, top: PAD_T, right: padR, bottom: 0 } },
      plugins: { legend: { display: false }, tooltip: { enabled: false } },
      scales: { x: p.x, y: p.y }
    }
  })
}

const individuals = Array.from({ length: 50 }, function(_, i) { return i })
const generations = Array.from({ length: 150 }, function(_, i) { return i })

const sdGrids = [sdGridFO1, sdGridFO2, sdGridFO3, sdGridFO4]
const sdTicks = [sdTicksFO1, sdTicksFO2, sdTicksFO3, sdTicksFO4]
const sdCurves = [sdCurvesFO1, sdCurvesFO2, sdCurvesFO3, sdCurvesFO4]
const fitnessSets = [fitnessFO1, fitnessFO2, fitnessFO3, fitnessFO4]
const fitnessTicks = [fitnessTicksFO1, fitnessTicksFO2, fitnessTicksFO3, fitnessTicksFO4]
const sdTrends = [sdTrendFO1, sdTrendFO2, sdTrendFO3, sdTrendFO4]
const sdTrendTicks = [sdTrendTicksFO1, sdTrendTicksFO2, sdTrendTicksFO3, sdTrendTicksFO4]
const meanTrends = [meanTrendFO1, meanTrendFO2, meanTrendFO3, meanTrendFO4]
const meanTrendTicks = [meanTrendTicksFO1, meanTrendTicksFO2, meanTrendTicksFO3, meanTrendTicksFO4]

// layout (pixels)
const rowTop = [76, 380, 685, 989], rowBottom = [319, 623, 928, 1232]
const sdTop = [67, 371, 676, 980], sdBottom = [328, 633, 938, 1242]
const sdLeft = [59, 65, 65, 65], sdRight = [524, 521, 521, 521]
const sdYRange = [[-0.239, 1.149], [-0.254, 1.188], [-0.305, 1.39], [-0.221, 1.147]]
const fitLeft = [622, 626, 626, 626]
const sdTrendLeft = [1225, 1241, 1241, 1241]
const meanLeft = [1833, 1841, 1841, 1841]
const fitYRange = [[-10, -2], [-0.6, -0.3], [-0.6, -0.3], [-0.7, -0.4]]
const sdTrendRange = [[1, 1.7], [0.025, 0.055], [0.03, 0.055], [0.015, 0.06]]
const meanRange = [[-8, -5.5], [-0.5, -0.44], [-0.5, -0.4], [-0.59, -0.54]]
const meanFillTo = [-8, -0.5, -0.48, -0.58]

for (let r = 0; r < 4; r++) {
  // standard deviation curves
  let curves = sdCurves[r]
  panel({
    L: sdLeft[r], R: sdRight[r], T: sdTop[r], B: sdBottom[r], padR: 80,
    datasets: curves.map(function(ys, i) {
      return { data: points(sdGrids[r], ys), borderColor: generationColor(i, curves.length, 0.7), borderWidth: 2.2, pointRadius: 0, tension: 0.4, fill: false, order: curves.length - i }
    }),
    x: xAxis(sdGrids[r][0], sdTicks[r][sdTicks[r].length - 1], sdTicks[r], objectives[r], 9, 5),
    y: { display: false, min: sdYRange[r][0], max: sdYRange[r][1] }
  })

  // fitness values
  let lines = fitnessSets[r]
  panel({
    L: fitLeft[r], R: 1189, T: rowTop[r], B: rowBottom[r],
    datasets: lines.map(function(ys, i) {
      return { data: points(individuals, ys), borderColor: generationColor(i, lines.length, 0.72), borderWidth: 1.8, pointRadius: 0, tension: 0, fill: false, order: lines.length - i }
    }),
    x: xAxis(0, 49, fitnessTicksX, objectives[r], 7, 6),
    y: yAxis(fitYRange[r][0], fitYRange[r][1], fitnessTicks[r])
  })

  // SD value trendline
  panel({
    L: sdTrendLeft[r], R: 1787, T: rowTop[r], B: rowBottom[r],
    datasets: [{ data: points(generations, sdTrends[r]), borderColor: "rgb(72,242,246)", borderWidth: 1.6, backgroundColor: "rgba(218,255,255,0.95)", pointRadius: 0, tension: 0, fill: { value: sdTrendRange[r][0] } }],
    x: xAxis(0, 149, trendTicksX, objectives[r], 7, 6),
    y: yAxis(sdTrendRange[r][0], sdTrendRange[r][1], sdTrendTicks[r])
  })

  // mean value trendline
  panel({
    L: meanLeft[r], R: 2391, T: rowTop[r], B: rowBottom[r],
    datasets: [{ data: points(generations, meanTrends[r]), borderColor: "rgb(72,242,246)", borderWidth: 1.6, backgroundColor: "rgba(218,255,255,0.95)", pointRadius: 0, tension: 0, fill: { value: meanFillTo[r] } }],
    x: xAxis(0, 149, trendTicksX, objectives[r], 7, 6),
    y: yAxis(meanRange[r][0], meanRange[r][1], meanTrendTicks[r])
  })
}
</script>
</body>
</html>
